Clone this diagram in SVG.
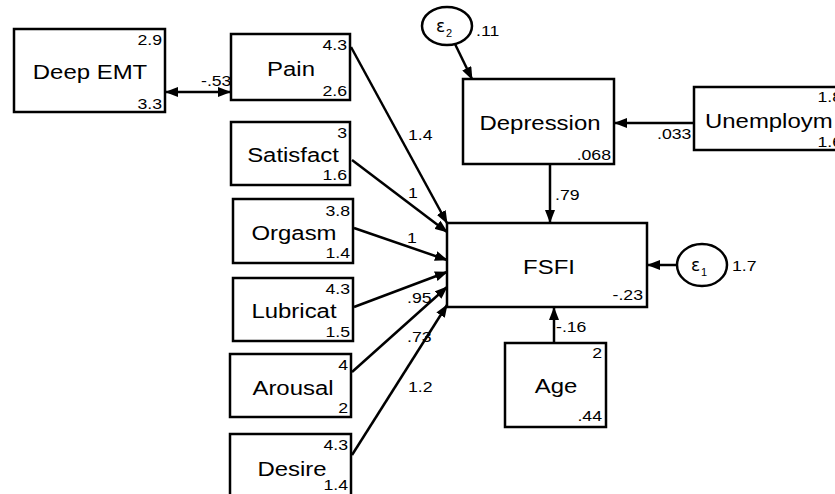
<svg xmlns="http://www.w3.org/2000/svg" width="835" height="494" viewBox="0 0 835 494">
<defs>
<style>
.box{fill:#fff;stroke:#000;stroke-width:2.5}
.el{fill:#fff;stroke:#000;stroke-width:2.5}
.ln{fill:none;stroke:#000;stroke-width:2.5}
.lbl{font-family:"Liberation Sans",Arial,sans-serif;font-size:21px;fill:#000;text-anchor:middle}
.num{font-family:"Liberation Sans",Arial,sans-serif;font-size:15.5px;fill:#000;text-anchor:end}
.coef{font-family:"Liberation Sans",Arial,sans-serif;font-size:15.5px;fill:#000;text-anchor:start}
.eps{font-family:"DejaVu Sans","Liberation Sans",sans-serif;font-size:17px;fill:#000}
.sub{font-family:"Liberation Sans",Arial,sans-serif;font-size:11px;fill:#000}
</style>
<marker id="ah" viewBox="0 0 13 10" refX="12" refY="5" markerWidth="13" markerHeight="10" markerUnits="userSpaceOnUse" orient="auto-start-reverse">
<path d="M0,0 L13,5 L0,10 z" fill="#000"/>
</marker>
</defs>
<rect width="835" height="494" fill="#fff"/>

<g id="connectors">
<line class="ln" x1="166" y1="92" x2="230" y2="92" marker-start="url(#ah)" marker-end="url(#ah)"/>
<line class="ln" x1="351" y1="47" x2="447" y2="223" marker-end="url(#ah)"/>
<line class="ln" x1="352" y1="160" x2="447" y2="232" marker-end="url(#ah)"/>
<line class="ln" x1="354" y1="228" x2="447" y2="260" marker-end="url(#ah)"/>
<line class="ln" x1="354" y1="307" x2="447" y2="272" marker-end="url(#ah)"/>
<line class="ln" x1="352" y1="372" x2="447" y2="287" marker-end="url(#ah)"/>
<line class="ln" x1="352" y1="455" x2="447" y2="305" marker-end="url(#ah)"/>
<line class="ln" x1="550" y1="164" x2="550" y2="222" marker-end="url(#ah)"/>
<line class="ln" x1="694" y1="123" x2="615" y2="123" marker-end="url(#ah)"/>
<line class="ln" x1="455" y1="44" x2="472" y2="79" marker-end="url(#ah)"/>
<line class="ln" x1="677" y1="265" x2="648" y2="265" marker-end="url(#ah)"/>
<line class="ln" x1="554" y1="343" x2="554" y2="308" marker-end="url(#ah)"/>
<text class="coef" transform="translate(201,86) scale(1.14,1)">-.53</text>
<text class="coef" transform="translate(408,140) scale(1.14,1)">1.4</text>
<text class="coef" transform="translate(408,198) scale(1.14,1)">1</text>
<text class="coef" transform="translate(407,243) scale(1.14,1)">1</text>
<text class="coef" transform="translate(407,303) scale(1.14,1)">.95</text>
<text class="coef" transform="translate(407,342) scale(1.14,1)">.73</text>
<text class="coef" transform="translate(408,392) scale(1.14,1)">1.2</text>
<text class="coef" transform="translate(555,200) scale(1.14,1)">.79</text>
<text class="coef" transform="translate(657,139) scale(1.14,1)">.033</text>
<text class="coef" transform="translate(556,332) scale(1.14,1)">-.16</text>
</g>

<g id="deepemt">
<rect class="box" x="14" y="29" width="151" height="83"/>
<text class="lbl" transform="translate(90,79) scale(1.14,1)">Deep EMT</text>
<text class="num" transform="translate(162,45) scale(1.14,1)">2.9</text>
<text class="num" transform="translate(162,109) scale(1.14,1)">3.3</text>
</g>

<g id="pain">
<rect class="box" x="231" y="34" width="119" height="66"/>
<text class="lbl" transform="translate(291,76) scale(1.14,1)">Pain</text>
<text class="num" transform="translate(347,50) scale(1.14,1)">4.3</text>
<text class="num" transform="translate(347,96) scale(1.14,1)">2.6</text>
</g>

<g id="satisfact">
<rect class="box" x="231" y="122" width="119" height="63"/>
<text class="lbl" transform="translate(293,162) scale(1.14,1)">Satisfact</text>
<text class="num" transform="translate(347,138) scale(1.14,1)">3</text>
<text class="num" transform="translate(347,180) scale(1.14,1)">1.6</text>
</g>

<g id="orgasm">
<rect class="box" x="233" y="199" width="120" height="64"/>
<text class="lbl" transform="translate(294,240) scale(1.14,1)">Orgasm</text>
<text class="num" transform="translate(350,216) scale(1.14,1)">3.8</text>
<text class="num" transform="translate(350,258) scale(1.14,1)">1.4</text>
</g>

<g id="lubricat">
<rect class="box" x="233" y="278" width="120" height="63"/>
<text class="lbl" transform="translate(294,318) scale(1.14,1)">Lubricat</text>
<text class="num" transform="translate(350,294) scale(1.14,1)">4.3</text>
<text class="num" transform="translate(350,337) scale(1.14,1)">1.5</text>
</g>

<g id="arousal">
<rect class="box" x="230" y="354" width="121" height="63"/>
<text class="lbl" transform="translate(293,395) scale(1.14,1)">Arousal</text>
<text class="num" transform="translate(348,370) scale(1.14,1)">4</text>
<text class="num" transform="translate(348,413) scale(1.14,1)">2</text>
</g>

<g id="desire">
<rect class="box" x="230" y="434" width="121" height="64"/>
<text class="lbl" transform="translate(292,476) scale(1.14,1)">Desire</text>
<text class="num" transform="translate(348,450) scale(1.14,1)">4.3</text>
<text class="num" transform="translate(348,490) scale(1.14,1)">1.4</text>
</g>

<g id="fsfi">
<rect class="box" x="447" y="223" width="200" height="84"/>
<text class="lbl" transform="translate(549,274) scale(1.14,1)">FSFI</text>
<text class="num" transform="translate(643,300) scale(1.14,1)">-.23</text>
</g>

<g id="depression">
<rect class="box" x="463" y="79" width="151" height="85"/>
<text class="lbl" transform="translate(540,130) scale(1.14,1)">Depression</text>
<text class="num" transform="translate(611,160) scale(1.14,1)">.068</text>
</g>

<g id="unemployment">
<rect class="box" x="694" y="87" width="152" height="63"/>
<text class="lbl" transform="translate(705,128) scale(1.14,1)" style="text-anchor:start">Unemploym</text>
<text class="num" transform="translate(842,102) scale(1.14,1)">1.8</text>
<text class="num" transform="translate(842,147) scale(1.14,1)">1.6</text>
</g>

<g id="age">
<rect class="box" x="505" y="343" width="101" height="84"/>
<text class="lbl" transform="translate(556,393) scale(1.14,1)">Age</text>
<text class="num" transform="translate(602,358) scale(1.14,1)">2</text>
<text class="num" transform="translate(602,421) scale(1.14,1)">.44</text>
</g>

<g id="e2">
<ellipse class="el" cx="447" cy="26" rx="25" ry="19"/>
<text class="eps" x="436" y="32">ε</text>
<text class="sub" x="446" y="37">2</text>
<text class="coef" transform="translate(476,36) scale(1.14,1)">.11</text>
</g>

<g id="e1">
<ellipse class="el" cx="702" cy="265" rx="25" ry="21"/>
<text class="eps" x="691" y="271">ε</text>
<text class="sub" x="701" y="276">1</text>
<text class="coef" transform="translate(732,271) scale(1.14,1)">1.7</text>
</g>
</svg>
